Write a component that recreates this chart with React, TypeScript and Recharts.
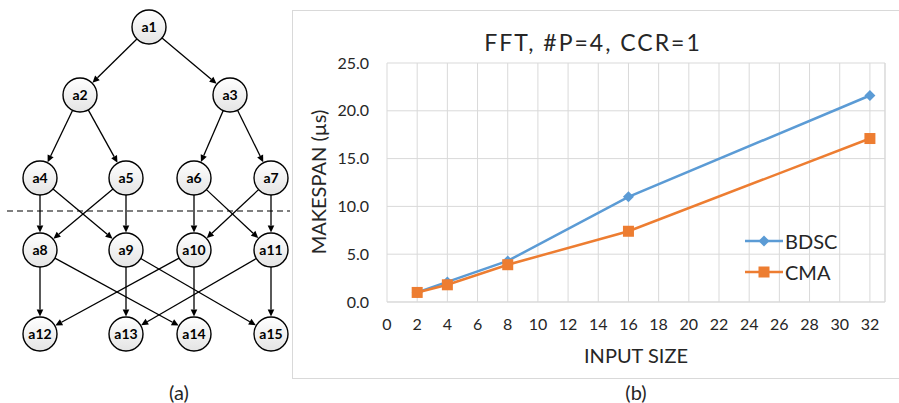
import React from "react";
import {
  CartesianGrid,
  Legend,
  Line,
  LineChart,
  ReferenceLine,
  Scatter,
  ScatterChart,
  XAxis,
  YAxis,
} from "recharts";

// (a) FFT task graph: node layout and edges
const nodeNames = ["a1", "a2", "a3", "a4", "a5", "a6", "a7", "a8", "a9", "a10", "a11", "a12", "a13", "a14", "a15"];
const nodeX = [149, 80, 230, 40, 126, 194, 271, 40, 126, 194, 271, 40, 126, 194, 271];
const nodeY = [27, 95, 95, 178, 178, 178, 178, 250, 250, 250, 250, 334, 334, 334, 334];
const edgeFrom = ["a1", "a1", "a2", "a2", "a3", "a3", "a4", "a4", "a5", "a5", "a6", "a6", "a7", "a7", "a8", "a8", "a9", "a9", "a10", "a10", "a11", "a11"];
const edgeTo = ["a2", "a3", "a4", "a5", "a6", "a7", "a8", "a9", "a8", "a9", "a10", "a11", "a10", "a11", "a12", "a14", "a13", "a15", "a12", "a14", "a13", "a15"];
const cutY = 211;

// (b) makespan chart
const inputSize = [2, 4, 8, 16, 32];
const bdsc = [1.0, 2.1, 4.3, 11.0, 21.6];
const cma = [1.0, 1.8, 3.9, 7.4, 17.1];
const xTicks = [0, 2, 4, 6, 8, 10, 12, 14, 16, 18, 20, 22, 24, 26, 28, 30, 32];
const yTicks = [0, 5, 10, 15, 20, 25];

const FONT = "Lato, 'Open Sans', sans-serif";
const TEXT = "#262626";
const GRID = "#d9d9d9";
const BLUE = "#5b9bd5";
const ORANGE = "#ed7d31";
const R = 17;

const nodes = nodeNames.map((name, i) => ({ name, x: nodeX[i], y: nodeY[i] }));
const nodeOf = (n: string) => nodes[nodeNames.indexOf(n)];

const Edge = (props: any) => {
  const { x1, y1, x2, y2 } = props;
  const dx = x2 - x1;
  const dy = y2 - y1;
  const len = Math.hypot(dx, dy);
  const ux = dx / len;
  const uy = dy / len;
  const sx = x1 + ux * R;
  const sy = y1 + uy * R;
  const ex = x2 - ux * (R + 0.5);
  const ey = y2 - uy * (R + 0.5);
  const bx = ex - ux * 7;
  const by = ey - uy * 7;
  const px = -uy * 3.3;
  const py = ux * 3.3;
  return (
    <g>
      <line x1={sx} y1={sy} x2={bx} y2={by} stroke="#000" strokeWidth={1.3} />
      <polygon points={`${ex},${ey} ${bx + px},${by + py} ${bx - px},${by - py}`} fill="#000" />
    </g>
  );
};

const NodeShape = (props: any) => {
  const { cx, cy, payload } = props;
  return (
    <g>
      <circle cx={cx} cy={cy} r={R} fill="url(#nodeFill)" stroke="#000" strokeWidth={1.4} />
      <text
        x={cx}
        y={cy}
        dy="0.35em"
        textAnchor="middle"
        fontFamily={FONT}
        fontWeight={700}
        fontSize={14}
        fill="#000"
      >
        {payload.name}
      </text>
    </g>
  );
};

function TaskGraph() {
  return (
    <ScatterChart width={292} height={403} margin={{ top: 0, right: 0, bottom: 0, left: 0 }}>
      <defs>
        <linearGradient id="nodeFill" x1="0" y1="0" x2="0" y2="1">
          <stop offset="0%" stopColor="#ffffff" />
          <stop offset="100%" stopColor="#e4e4e4" />
        </linearGradient>
      </defs>
      <XAxis type="number" dataKey="x" domain={[0, 292]} hide />
      <YAxis type="number" dataKey="y" domain={[0, 403]} reversed hide />
      <ReferenceLine
        segment={[{ x: 7, y: cutY }, { x: 290, y: cutY }]}
        stroke="#000"
        strokeWidth={1.2}
        strokeDasharray="6 4"
      />
      {edgeFrom.map((f, i) => {
        const a = nodeOf(f);
        const b = nodeOf(edgeTo[i]);
        return (
          <ReferenceLine
            key={`${f}-${edgeTo[i]}`}
            segment={[{ x: a.x, y: a.y }, { x: b.x, y: b.y }]}
            shape={Edge}
          />
        );
      })}
      <Scatter data={nodes} shape={NodeShape} isAnimationActive={false} />
    </ScatterChart>
  );
}

const Diamond = (props: any) => {
  const { cx, cy } = props;
  const s = 5.5;
  return <polygon points={`${cx},${cy - s} ${cx + s},${cy} ${cx},${cy + s} ${cx - s},${cy}`} fill={BLUE} />;
};

const Square = (props: any) => {
  const { cx, cy } = props;
  return <rect x={cx - 5.5} y={cy - 5.5} width={11} height={11} fill={ORANGE} />;
};

const LegendContent = () => {
  const rows = [
    { name: "BDSC", color: BLUE, Mark: Diamond },
    { name: "CMA", color: ORANGE, Mark: Square },
  ];
  return (
    <div style={{ fontFamily: FONT }}>
      {rows.map(({ name, color, Mark }) => (
        <div key={name} style={{ display: "flex", alignItems: "center", height: 31 }}>
          <svg width={38} height={14}>
            <line x1={0} y1={7} x2={38} y2={7} stroke={color} strokeWidth={2.5} />
            <Mark cx={19} cy={7} />
          </svg>
          <span style={{ fontSize: 20, color: TEXT, marginLeft: 2 }}>{name}</span>
        </div>
      ))}
    </div>
  );
};

function MakespanChart() {
  const data = inputSize.map((s, i) => ({ size: s, BDSC: bdsc[i], CMA: cma[i] }));
  return (
    <LineChart width={606} height={370} data={data} margin={{ top: 53, right: 14, bottom: 48, left: 34 }}>
      <CartesianGrid stroke={GRID} strokeWidth={1} />
      <XAxis
        dataKey="size"
        type="number"
        domain={[0, 33]}
        ticks={xTicks}
        interval={0}
        tickLine={false}
        tickSize={0}
        tickMargin={17}
        axisLine={{ stroke: GRID }}
        tick={{ fontSize: 16, fill: TEXT, fontFamily: FONT }}
        height={30}
      />
      <YAxis
        type="number"
        domain={[0, 25]}
        ticks={yTicks}
        tickFormatter={(v: number) => v.toFixed(1)}
        tickLine={false}
        axisLine={false}
        tickSize={0}
        tickMargin={18}
        tick={{ fontSize: 16, fill: TEXT, fontFamily: FONT }}
        width={60}
      />
      <ReferenceLine x={33} stroke={GRID} />
      <Line
        dataKey="BDSC"
        stroke={BLUE}
        strokeWidth={2.5}
        dot={<Diamond />}
        activeDot={false}
        isAnimationActive={false}
      />
      <Line
        dataKey="CMA"
        stroke={ORANGE}
        strokeWidth={2.5}
        dot={<Square />}
        activeDot={false}
        isAnimationActive={false}
      />
      <Legend
        layout="vertical"
        align="center"
        verticalAlign="middle"
        content={<LegendContent />}
        wrapperStyle={{ left: 452, top: 215, width: 120 }}
      />
    </LineChart>
  );
}

export default function App() {
  return (
    <div style={{ position: "absolute", left: 0, top: 0, width: 899, height: 403, background: "#fff", fontFamily: FONT, color: TEXT }}>
      <div style={{ position: "absolute", left: 0, top: 0 }}>
        <TaskGraph />
      </div>
      <div
        style={{
          position: "absolute",
          left: 292,
          top: 10,
          width: 620,
          height: 369,
          border: `1px solid ${GRID}`,
          boxSizing: "border-box",
        }}
      />
      <div style={{ position: "absolute", left: 293, top: 10 }}>
        <MakespanChart />
      </div>
      <div style={{ position: "absolute", left: 436, width: 314, top: 28, textAlign: "center", fontSize: 23, letterSpacing: 2, lineHeight: "28px" }}>
        FFT, #P=4, CCR=1
      </div>
      <div
        style={{
          position: "absolute",
          left: 318 - 100,
          top: 182 - 12,
          width: 200,
          lineHeight: "24px",
          textAlign: "center",
          fontSize: 20,
          transform: "rotate(-90deg)",
        }}
      >
        MAKESPAN (µs)
      </div>
      <div style={{ position: "absolute", left: 536, width: 200, top: 343, lineHeight: "24px", textAlign: "center", fontSize: 20 }}>
        INPUT SIZE
      </div>
      <div style={{ position: "absolute", left: 586, width: 100, top: 380, lineHeight: "24px", textAlign: "center", fontSize: 20 }}>
        (b)
      </div>
      <div style={{ position: "absolute", left: 129, width: 100, top: 380, lineHeight: "24px", textAlign: "center", fontSize: 20 }}>
        (a)
      </div>
    </div>
  );
}
